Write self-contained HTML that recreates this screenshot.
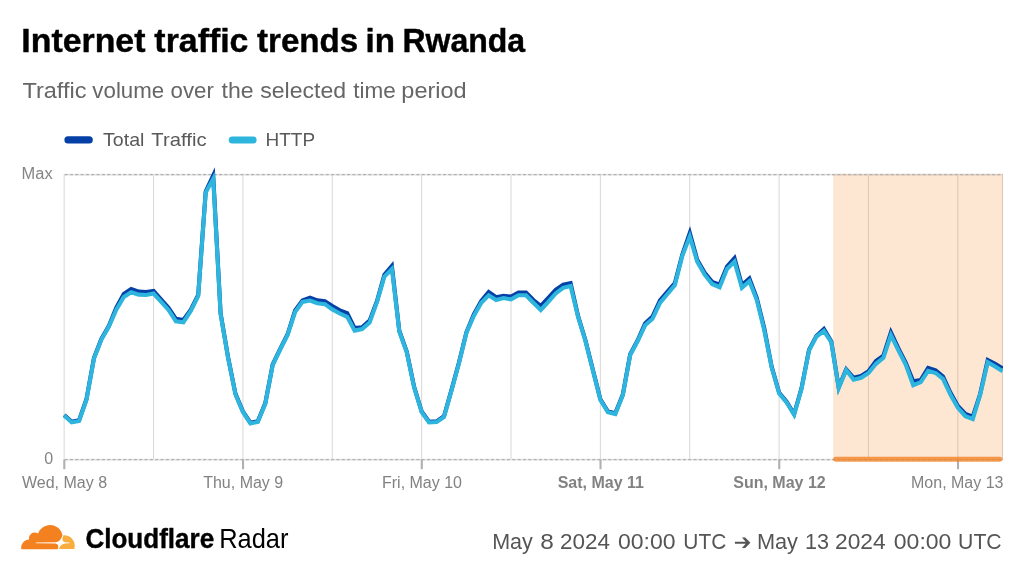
<!DOCTYPE html>
<html><head><meta charset="utf-8"><title>Internet traffic trends in Rwanda</title>
<style>
html,body{margin:0;padding:0;background:#fff;}
body{width:1024px;height:576px;overflow:hidden;font-family:"Liberation Sans",sans-serif;}
svg{display:block;font-family:"Liberation Sans",sans-serif;}
svg{will-change:transform;}
</style></head><body>
<svg width="1024" height="576" viewBox="0 0 1024 576">
<rect width="1024" height="576" fill="#fff"/>
<!-- header -->
<text x="21.37" y="52" font-size="32.5" font-weight="bold" stroke="#000" stroke-width="0.4" stroke-linejoin="round" fill="#000" textLength="124.05" lengthAdjust="spacingAndGlyphs">Internet</text>
<text x="154.39" y="52" font-size="32.5" font-weight="bold" stroke="#000" stroke-width="0.4" stroke-linejoin="round" fill="#000" textLength="94.02" lengthAdjust="spacingAndGlyphs">traffic</text>
<text x="257.0" y="52" font-size="32.5" font-weight="bold" stroke="#000" stroke-width="0.4" stroke-linejoin="round" fill="#000" textLength="101.22" lengthAdjust="spacingAndGlyphs">trends</text>
<text x="365.59" y="52" font-size="32.5" font-weight="bold" stroke="#000" stroke-width="0.4" stroke-linejoin="round" fill="#000" textLength="29.43" lengthAdjust="spacingAndGlyphs">in</text>
<text x="402.39" y="52" font-size="32.5" font-weight="bold" stroke="#000" stroke-width="0.4" stroke-linejoin="round" fill="#000" textLength="122.81" lengthAdjust="spacingAndGlyphs">Rwanda</text>
<text x="22.4" y="98.1" font-size="21.5" fill="#666" textLength="64.12" lengthAdjust="spacingAndGlyphs">Traffic</text>
<text x="92.39" y="98.1" font-size="21.5" fill="#666" textLength="71.83" lengthAdjust="spacingAndGlyphs">volume</text>
<text x="170.57" y="98.1" font-size="21.5" fill="#666" textLength="43.24" lengthAdjust="spacingAndGlyphs">over</text>
<text x="221.56" y="98.1" font-size="21.5" fill="#666" textLength="32.09" lengthAdjust="spacingAndGlyphs">the</text>
<text x="260.18" y="98.1" font-size="21.5" fill="#666" textLength="85.86" lengthAdjust="spacingAndGlyphs">selected</text>
<text x="353.38" y="98.1" font-size="21.5" fill="#666" textLength="42.45" lengthAdjust="spacingAndGlyphs">time</text>
<text x="401.34" y="98.1" font-size="21.5" fill="#666" textLength="65.32" lengthAdjust="spacingAndGlyphs">period</text>
<!-- legend -->
<line x1="68" y1="139.95" x2="89.2" y2="139.95" stroke="#0540a7" stroke-width="7.2" stroke-linecap="round"/>
<text x="103.0" y="146.1" font-size="19" fill="#595959" textLength="41.41" lengthAdjust="spacingAndGlyphs">Total</text>
<text x="151.39" y="146.1" font-size="19" fill="#595959" textLength="55.21" lengthAdjust="spacingAndGlyphs">Traffic</text>
<text x="265.52" y="146.1" font-size="19" fill="#595959" textLength="49.52" lengthAdjust="spacingAndGlyphs">HTTP</text>
<line x1="232.3" y1="140" x2="253" y2="140" stroke="#2db5de" stroke-width="7.2" stroke-linecap="round"/>
<!-- grid -->
<line x1="64.15" y1="174.5" x2="64.15" y2="459.5" stroke="#dadada" stroke-width="1.07"/>
<line x1="153.52" y1="174.5" x2="153.52" y2="459.5" stroke="#dadada" stroke-width="1.07"/>
<line x1="242.89" y1="174.5" x2="242.89" y2="459.5" stroke="#dadada" stroke-width="1.07"/>
<line x1="332.26" y1="174.5" x2="332.26" y2="459.5" stroke="#dadada" stroke-width="1.07"/>
<line x1="421.63" y1="174.5" x2="421.63" y2="459.5" stroke="#dadada" stroke-width="1.07"/>
<line x1="511.00" y1="174.5" x2="511.00" y2="459.5" stroke="#dadada" stroke-width="1.07"/>
<line x1="600.37" y1="174.5" x2="600.37" y2="459.5" stroke="#dadada" stroke-width="1.07"/>
<line x1="689.74" y1="174.5" x2="689.74" y2="459.5" stroke="#dadada" stroke-width="1.07"/>
<line x1="779.11" y1="174.5" x2="779.11" y2="459.5" stroke="#dadada" stroke-width="1.07"/>
<line x1="868.48" y1="174.5" x2="868.48" y2="459.5" stroke="#dadada" stroke-width="1.07"/>
<line x1="957.85" y1="174.5" x2="957.85" y2="459.5" stroke="#dadada" stroke-width="1.07"/>

<!-- highlight -->
<line x1="1002.5" y1="174.5" x2="1002.5" y2="459.5" stroke="#dadada" stroke-width="1.07"/>
<line x1="64.5" y1="174.6" x2="1003" y2="174.6" stroke="#e6e6e6" stroke-width="1.8"/>
<line x1="64.5" y1="459.6" x2="1003" y2="459.6" stroke="#e6e6e6" stroke-width="1.8"/>
<rect x="833.2" y="173.8" width="169.7" height="286" fill="#f38020" fill-opacity="0.2"/>
<line x1="64.5" y1="174.6" x2="1003" y2="174.6" stroke="#b2b2b2" stroke-width="1.1" stroke-dasharray="3.2,2.13"/>
<line x1="64.5" y1="459.6" x2="1003" y2="459.6" stroke="#b2b2b2" stroke-width="1.1" stroke-dasharray="3.2,2.13"/>
<line x1="64.30" y1="459.5" x2="64.30" y2="469.2" stroke="#b0b0b0" stroke-width="2.1"/>
<line x1="243.04" y1="459.5" x2="243.04" y2="469.2" stroke="#b0b0b0" stroke-width="2.1"/>
<line x1="421.78" y1="459.5" x2="421.78" y2="469.2" stroke="#b0b0b0" stroke-width="2.1"/>
<line x1="600.52" y1="459.5" x2="600.52" y2="469.2" stroke="#b0b0b0" stroke-width="2.1"/>
<line x1="779.26" y1="459.5" x2="779.26" y2="469.2" stroke="#b0b0b0" stroke-width="2.1"/>
<line x1="958.00" y1="459.5" x2="958.00" y2="469.2" stroke="#b0b0b0" stroke-width="2.1"/>

<line x1="835.5" y1="459.3" x2="1000" y2="459.3" stroke="#f38020" stroke-opacity="0.76" stroke-width="4.9" stroke-linecap="round"/>
<text x="21.57" y="178.8" font-size="16" fill="#858585" textLength="31.07" lengthAdjust="spacingAndGlyphs">Max</text>
<text x="53.2" y="463.8" font-size="16" fill="#858585" text-anchor="end">0</text>
<text x="64.5" y="487.5" text-anchor="middle" font-size="16" fill="#828282">Wed, May 8</text>
<text x="243.2" y="487.5" text-anchor="middle" font-size="16" fill="#828282">Thu, May 9</text>
<text x="422.0" y="487.5" text-anchor="middle" font-size="16" fill="#828282">Fri, May 10</text>
<text x="600.8" y="487.5" text-anchor="middle" font-size="16" fill="#828282" font-weight="bold">Sat, May 11</text>
<text x="779.5" y="487.5" text-anchor="middle" font-size="16" fill="#828282" font-weight="bold">Sun, May 12</text>
<text x="1003.5" y="487.5" text-anchor="end" font-size="16" fill="#828282">Mon, May 13</text>

<!-- series -->
<clipPath id="cp"><rect x="60" y="160" width="943" height="310"/></clipPath>
<g clip-path="url(#cp)">
<polyline fill="none" stroke="#0540a7" stroke-width="4.1" stroke-linejoin="miter" stroke-miterlimit="10" points="64.2,414.9 71.7,421.7 79.1,420.2 86.5,399.0 94.0,357.7 101.4,338.9 108.9,325.8 116.3,307.6 123.8,294.0 131.2,289.0 138.7,291.6 146.1,292.0 153.6,290.9 161.0,299.3 168.5,307.8 175.9,318.8 183.4,320.0 190.8,309.6 198.2,295.0 205.7,191.5 213.2,175.5 220.6,313.3 228.1,357.3 235.5,393.8 242.9,411.3 250.4,422.7 257.8,421.2 265.3,403.1 272.7,364.3 280.2,348.8 287.6,334.3 295.1,310.5 302.5,300.5 310.0,297.8 317.4,300.4 324.9,301.3 332.3,306.0 339.8,310.3 347.2,313.1 354.6,328.1 362.1,327.2 369.6,320.6 377.0,301.0 384.4,274.7 391.9,266.0 399.3,330.8 406.8,351.8 414.2,387.1 421.7,411.5 429.1,421.8 436.6,421.4 444.0,416.2 451.5,389.9 458.9,362.8 466.4,332.3 473.8,314.5 481.3,301.0 488.7,292.0 496.1,297.2 503.6,295.7 511.1,296.6 518.5,292.5 526.0,292.5 533.4,300.0 540.8,306.0 548.3,297.8 555.7,289.7 563.2,284.6 570.6,283.1 578.1,316.2 585.5,340.5 593.0,370.3 600.4,399.3 607.9,411.5 615.3,413.3 622.8,394.6 630.2,354.3 637.7,340.3 645.1,323.4 652.5,316.5 660.0,300.4 667.5,291.6 674.9,283.1 682.3,254.6 689.8,233.0 697.2,259.7 704.7,272.8 712.1,281.8 719.6,284.6 727.0,266.6 734.5,258.2 741.9,285.0 749.4,278.4 756.8,298.0 764.3,328.5 771.7,366.8 779.2,392.8 786.6,401.8 794.1,414.0 801.5,388.3 809.0,349.9 816.4,335.9 823.9,329.0 831.3,341.5 838.7,387.4 846.2,369.3 853.6,377.8 861.1,376.0 868.5,371.2 876.0,361.0 883.4,355.6 890.9,332.4 898.3,348.2 905.8,362.8 913.2,381.3 920.7,380.0 928.1,368.0 935.6,370.3 943.0,376.5 950.5,392.8 957.9,406.0 965.4,414.0 972.8,416.6 980.2,393.8 987.7,360.0 995.1,363.8 1002.6,368.4"/>
<polyline fill="none" stroke="#2db5de" stroke-width="4.1" stroke-linejoin="miter" stroke-miterlimit="10" points="64.2,415.6 71.7,422.4 79.1,420.9 86.5,399.7 94.0,358.4 101.4,339.6 108.9,326.5 116.3,309.6 123.8,296.9 131.2,292.2 138.7,294.6 146.1,295.0 153.6,293.5 161.0,301.6 168.5,310.0 175.9,321.3 183.4,322.2 190.8,311.0 198.2,296.0 205.7,192.5 213.2,178.8 220.6,314.0 228.1,358.0 235.5,394.5 242.9,412.0 250.4,423.4 257.8,421.9 265.3,403.8 272.7,365.0 280.2,349.5 287.6,335.0 295.1,312.0 302.5,301.9 310.0,300.6 317.4,303.2 324.9,304.1 332.3,309.4 339.8,313.5 347.2,316.9 354.6,330.6 362.1,329.0 369.6,322.5 377.0,301.9 384.4,276.6 391.9,269.0 399.3,331.5 406.8,352.5 414.2,387.8 421.7,412.2 429.1,422.5 436.6,422.1 444.0,416.9 451.5,390.6 458.9,363.5 466.4,333.0 473.8,316.0 481.3,302.8 488.7,295.3 496.1,300.0 503.6,298.1 511.1,299.4 518.5,295.3 526.0,295.3 533.4,302.8 540.8,310.0 548.3,301.9 555.7,293.4 563.2,287.8 570.6,285.9 578.1,316.9 585.5,341.2 593.0,371.0 600.4,400.0 607.9,412.2 615.3,414.0 622.8,395.3 630.2,355.0 637.7,341.0 645.1,325.3 652.5,318.8 660.0,302.8 667.5,294.0 674.9,285.0 682.3,255.9 689.8,236.5 697.2,261.6 704.7,274.7 712.1,284.0 719.6,287.2 727.0,269.0 734.5,261.6 741.9,287.8 749.4,281.2 756.8,300.0 764.3,330.5 771.7,367.5 779.2,393.5 786.6,402.5 794.1,414.7 801.5,389.0 809.0,350.6 816.4,336.6 823.9,331.0 831.3,342.2 838.7,388.1 846.2,370.0 853.6,379.7 861.1,377.8 868.5,373.0 876.0,363.8 883.4,357.9 890.9,335.2 898.3,350.2 905.8,364.8 913.2,385.3 920.7,382.2 928.1,370.8 935.6,373.0 943.0,378.8 950.5,394.7 957.9,407.8 965.4,416.2 972.8,419.0 980.2,394.7 987.7,362.2 995.1,366.6 1002.6,371.2"/>
</g>
<!-- logo -->
<g transform="translate(21.2,525) scale(0.2094)">
<path fill="#fff" d="m202.357 49.394-5.311-2.124C172.085 103.434 72.786 69.289 66.81 85.997c-.996 11.286 54.227 2.146 93.706 4.059 12.039.583 18.076 9.671 12.964 24.484l10.069.031c11.615-36.209 48.683-17.73 50.232-29.68-2.545-7.857-42.601 0-31.425-35.497Z"/>
<path fill="#F4811F" d="M176.332 108.348c1.593-5.31 1.062-10.622-1.593-13.808-2.655-3.186-6.373-5.31-11.153-5.842L71.17 87.636c-.531 0-1.062-.531-1.593-.531-.531-.531-.531-1.062 0-1.593.531-1.062 1.062-1.593 2.124-1.593l92.946-1.062c11.153-.531 22.838-9.56 27.087-20.182l5.31-13.808c0-.531.532-1.062 0-1.593C191.203 20.182 166.772 0 138.091 0 111.535 0 88.697 16.995 80.73 40.896c-5.311-3.718-11.684-5.843-19.12-5.31-12.747 1.061-22.838 11.683-24.432 24.43-.531 3.187 0 6.374.532 9.56C16.996 70.107 0 87.103 0 108.348c0 2.124 0 3.718.531 5.842 0 1.062 1.062 1.593 1.593 1.593h170.489c1.062 0 2.125-.531 2.125-1.593l1.594-5.842Z"/>
<path fill="#FAAD3F" d="M205.544 48.863h-2.656c-.531 0-1.062.53-1.593 1.062l-3.718 12.747c-1.593 5.31-1.062 10.623 1.594 13.809 2.655 3.187 6.373 5.31 11.153 5.843l19.652 1.062c.53 0 1.062.53 1.593.53.53.532.53 1.063 0 1.594-.531 1.062-1.062 1.593-2.124 1.593l-20.182 1.062c-11.154.53-22.838 9.56-27.087 20.182l-1.063 4.78c-.531.532 0 1.594 1.063 1.594h70.108c1.062 0 1.593-.531 1.593-1.593 1.062-4.25 2.124-9.03 2.124-13.81 0-27.618-22.838-50.456-50.457-50.456"/>
</g>
<text x="85.38" y="547.9" font-size="27.5" font-weight="bold" stroke="#000" stroke-width="0.4" stroke-linejoin="round" fill="#000" textLength="128.82" lengthAdjust="spacingAndGlyphs">Cloudflare</text>
<text x="219.17" y="547.9" font-size="27.5" fill="#000" textLength="69.24" lengthAdjust="spacingAndGlyphs">Radar</text>
<text x="492.16" y="549.2" font-size="22" fill="#555" textLength="40.63" lengthAdjust="spacingAndGlyphs">May</text>
<text x="540.17" y="549.2" font-size="22" fill="#555" textLength="13.58" lengthAdjust="spacingAndGlyphs">8</text>
<text x="559.98" y="549.2" font-size="22" fill="#555" textLength="50.02" lengthAdjust="spacingAndGlyphs">2024</text>
<text x="617.97" y="549.2" font-size="22" fill="#555" textLength="57.63" lengthAdjust="spacingAndGlyphs">00:00</text>
<text x="683.3" y="549.2" font-size="22" fill="#555" textLength="42.98" lengthAdjust="spacingAndGlyphs">UTC</text>
<text x="756.93" y="549.2" font-size="22" fill="#555" textLength="41.07" lengthAdjust="spacingAndGlyphs">May</text>
<text x="804.9" y="549.2" font-size="22" fill="#555" textLength="24.0" lengthAdjust="spacingAndGlyphs">13</text>
<text x="834.99" y="549.2" font-size="22" fill="#555" textLength="50.62" lengthAdjust="spacingAndGlyphs">2024</text>
<text x="893.77" y="549.2" font-size="22" fill="#555" textLength="57.65" lengthAdjust="spacingAndGlyphs">00:00</text>
<text x="958.12" y="549.2" font-size="22" fill="#555" textLength="43.54" lengthAdjust="spacingAndGlyphs">UTC</text>
<path fill="#555" d="M734.9 541.7H745.7L741.9 537.5H745.2L750.4 542.75L745.2 548H741.9L745.7 543.8H734.9Z"/>
</svg>
</body></html>
